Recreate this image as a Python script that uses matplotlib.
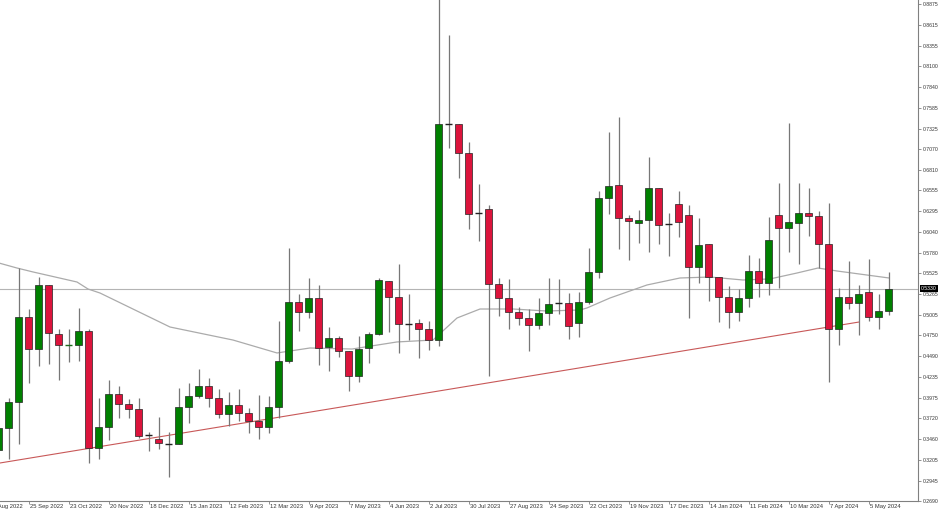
import matplotlib
matplotlib.use("Agg")
import matplotlib.pyplot as plt
import matplotlib.transforms as mtransforms
import numpy as np
import pandas as pd

# ---------------- data (weekly candles, first candle = week of 4 Sep 2022) ----------------
start_date = "2022-09-04"
opens = [0.3325, 0.3598, 0.3922, 0.4980, 0.4581, 0.5378, 0.4768, 0.4630, 0.4631, 0.4805,
         0.3350, 0.3611, 0.4022, 0.3897, 0.3835, 0.3511, 0.3462, 0.3399, 0.3399, 0.3855,
         0.3997, 0.4121, 0.3972, 0.3773, 0.3885, 0.3780, 0.3686, 0.3611, 0.3860, 0.4432,
         0.5166, 0.5042, 0.5216, 0.4606, 0.4718, 0.4557, 0.4246, 0.4594, 0.4768, 0.5428,
         0.5229, 0.4893, 0.4905, 0.4830, 0.4694, 0.7385, 0.7381, 0.7021, 0.6274, 0.6324,
         0.5390, 0.5216, 0.5042, 0.4967, 0.4880, 0.5029, 0.5154, 0.5154, 0.4905, 0.5166,
         0.5540, 0.6461, 0.6622, 0.6212, 0.6149, 0.6187, 0.6585, 0.6137, 0.6386, 0.6249,
         0.5602, 0.5888, 0.5477, 0.5229, 0.5042, 0.5216, 0.5552, 0.5403, 0.6249, 0.6087,
         0.6149, 0.6274, 0.6237, 0.5888, 0.4830, 0.5229, 0.5154, 0.5291, 0.4980, 0.5054]
highs = [0.3640, 0.3972, 0.5590, 0.5079, 0.5477, 0.5380, 0.4830, 0.4830, 0.5092, 0.4830,
         0.3972, 0.4196, 0.4121, 0.3959, 0.3972, 0.3549, 0.3735, 0.3549, 0.4096, 0.4158,
         0.4333, 0.4221, 0.4084, 0.4046, 0.4084, 0.3847, 0.4009, 0.3997, 0.4930, 0.5838,
         0.5266, 0.5465, 0.5378, 0.4855, 0.4743, 0.4557, 0.4743, 0.4793, 0.5465, 0.5430,
         0.5639, 0.5266, 0.4955, 0.4930, 0.8950, 0.8489, 0.7381, 0.7157, 0.6635, 0.6373,
         0.5465, 0.5453, 0.5104, 0.5079, 0.5216, 0.5465, 0.5453, 0.5278, 0.5291, 0.5838,
         0.6548, 0.7282, 0.7469, 0.6249, 0.6311, 0.6971, 0.6585, 0.6274, 0.6548, 0.6373,
         0.6212, 0.5888, 0.5477, 0.5365, 0.5328, 0.5751, 0.5714, 0.6224, 0.6647, 0.7394,
         0.6647, 0.6585, 0.6299, 0.6398, 0.5341, 0.5677, 0.5378, 0.5701, 0.5266, 0.5540]
lows = [0.3290, 0.3213, 0.3399, 0.4158, 0.4370, 0.4395, 0.4196, 0.4420, 0.4432, 0.3163,
        0.3213, 0.3449, 0.3723, 0.3723, 0.3474, 0.3312, 0.3337, 0.2989, 0.3399, 0.3661,
        0.3972, 0.3860, 0.3723, 0.3623, 0.3686, 0.3536, 0.3462, 0.3536, 0.3723, 0.4407,
        0.4805, 0.4967, 0.4382, 0.4308, 0.4482, 0.4059, 0.4171, 0.4407, 0.4756, 0.4793,
        0.4532, 0.4694, 0.4470, 0.4569, 0.4619, 0.7083, 0.6709, 0.6075, 0.5925, 0.4246,
        0.4992, 0.4830, 0.4880, 0.4557, 0.4830, 0.4880, 0.5017, 0.4706, 0.4731, 0.5141,
        0.5465, 0.6261, 0.5826, 0.5689, 0.5901, 0.5789, 0.5888, 0.5739, 0.5975, 0.4967,
        0.5403, 0.5179, 0.4917, 0.4843, 0.4930, 0.5104, 0.5229, 0.5254, 0.5341, 0.5789,
        0.5639, 0.5988, 0.5590, 0.4171, 0.4631, 0.5079, 0.4756, 0.4930, 0.4830, 0.5005]
closes = [0.3598, 0.3922, 0.4980, 0.4581, 0.5378, 0.4781, 0.4631, 0.4632, 0.4805, 0.3350,
          0.3611, 0.4022, 0.3897, 0.3835, 0.3499, 0.3511, 0.3412, 0.3399, 0.3860, 0.3997,
          0.4121, 0.3972, 0.3773, 0.3885, 0.3785, 0.3686, 0.3611, 0.3860, 0.4432, 0.5166,
          0.5042, 0.5216, 0.4594, 0.4718, 0.4557, 0.4246, 0.4581, 0.4768, 0.5440, 0.5229,
          0.4893, 0.4893, 0.4830, 0.4694, 0.7381, 0.7380, 0.7021, 0.6261, 0.6274, 0.5390,
          0.5216, 0.5042, 0.4967, 0.4880, 0.5029, 0.5141, 0.5154, 0.4868, 0.5166, 0.5540,
          0.6461, 0.6610, 0.6212, 0.6174, 0.6187, 0.6585, 0.6125, 0.6137, 0.6162, 0.5602,
          0.5876, 0.5477, 0.5229, 0.5042, 0.5216, 0.5552, 0.5403, 0.5938, 0.6087, 0.6162,
          0.6274, 0.6237, 0.5888, 0.4830, 0.5229, 0.5154, 0.5266, 0.4980, 0.5054, 0.5330]

# moving-average line (vertices: candle index, value)
ma_idx = [-0.5, 1.85, 3.45, 7.85, 8.95, 10.15, 17.15, 23.45, 27.85, 31.15, 35.35, 39.85,
          43.45, 45.85, 48.15, 51.45, 54.85, 58.15, 58.85, 61.15, 64.85, 68.15, 71.15,
          74.45, 77.15, 79.85, 81.95, 83.85, 89.05]
ma_val = [0.5670, 0.5589, 0.5540, 0.5415, 0.5328, 0.5278, 0.4855, 0.4693, 0.4532, 0.4594,
          0.4581, 0.4669, 0.4693, 0.4967, 0.5079, 0.5079, 0.5054, 0.5067, 0.5092, 0.5216,
          0.5378, 0.5465, 0.5477, 0.5440, 0.5453, 0.5527, 0.5589, 0.5552, 0.5465]

# support trend line (two anchors: candle index, value)
trend_idx = [0.15, 86.05]
trend_val = [0.3163, 0.4917]

current_price = 0.5330

ytick_vals = [0.8875, 0.8615, 0.8355, 0.8100, 0.7840, 0.7585, 0.7325, 0.7070, 0.6810,
              0.6555, 0.6295, 0.6040, 0.5780, 0.5525, 0.5265, 0.5005, 0.4750, 0.4490,
              0.4235, 0.3975, 0.3720, 0.3460, 0.3205, 0.2945, 0.2690]
xtick_idx = [-1, 3, 7, 11, 15, 19, 23, 27, 31, 35, 39, 43, 47, 51, 55, 59, 63, 67, 71,
             75, 79, 83, 87]

# ---------------- drawing ----------------
FONT = ["Liberation Sans", "DejaVu Sans"]
plt.rcParams["font.family"] = FONT
FS_Y = 3.7
FS_X = 4.2
TXT = "#333333"

fig = plt.figure(figsize=(9.40, 5.13), dpi=100)
ax = fig.add_axes([0.0, 1 - 501 / 513, 918 / 940, 501 / 513])

o = np.array(opens); h = np.array(highs); l = np.array(lows); c = np.array(closes)
x = np.arange(len(o))
up = c >= o
green = "#008000"
red = "#dc143c"

ax.vlines(x, l, h, color="#777777", linewidth=0.9, zorder=2)
body_h = c - o
doji = np.abs(body_h) < 0.0006
colors = np.where(up, green, red)
ax.bar(x[~doji], body_h[~doji], bottom=o[~doji], width=0.66,
       color=colors[~doji], edgecolor="#222222", linewidth=0.5, zorder=3)
for xi, oi, ci in zip(x[doji], o[doji], c[doji]):
    col = "#1e6b1e" if xi == 7 else "#222222"
    ax.hlines((oi + ci) / 2, xi - 0.33, xi + 0.33, color=col, linewidth=1.0, zorder=3)

ax.plot(ma_idx, ma_val, color="#ababab", linewidth=0.9, zorder=1)
ax.plot(trend_idx, trend_val, color="#c85858", linewidth=0.8, zorder=1.5)
ax.axhline(current_price, color="#b4b4b4", linewidth=0.8, zorder=0.5)

ax.set_xlim(0.15, 91.95)
ax.set_ylim(0.2690, 0.8924)

for s in ["top", "left"]:
    ax.spines[s].set_visible(False)
for s in ["right", "bottom"]:
    ax.spines[s].set_color("#808080")
    ax.spines[s].set_linewidth(0.8)

ax.yaxis.tick_right()
ax.set_yticks(ytick_vals)
ax.set_yticklabels([f"{v:.4f}" for v in ytick_vals])
ax.tick_params(axis="y", direction="out", length=2.2, width=0.6, color="#808080",
               pad=1.0, labelsize=FS_Y, labelcolor=TXT)

def lab(i):
    d = pd.Timestamp(start_date) + pd.Timedelta(days=7 * i)
    return f"{d.day} {d:%b %Y}"

vis_ticks = [i for i in xtick_idx if i >= 0]
ax.set_xticks(vis_ticks)
ax.set_xticklabels([lab(i) for i in vis_ticks])
ax.tick_params(axis="x", direction="out", length=2.2, width=0.6, color="#808080",
               pad=0.2, labelsize=FS_X, labelcolor=TXT)
offset = mtransforms.ScaledTranslation(1.5 / 100, 0, fig.dpi_scale_trans)
for t in ax.get_xticklabels():
    t.set_horizontalalignment("left")
    t.set_transform(t.get_transform() + offset)

# partially visible first label (28 Aug 2022) left of the view
for i in [i for i in xtick_idx if i < 0]:
    trans = mtransforms.blended_transform_factory(ax.transData, ax.transAxes)
    ax.text(i, 0, lab(i), transform=trans + offset + mtransforms.ScaledTranslation(0, -3.2 / 100, fig.dpi_scale_trans),
            ha="left", va="top", fontsize=FS_X, color=TXT, clip_on=False)

# current price label
ptrans = mtransforms.blended_transform_factory(ax.transAxes, ax.transData)
ax.text(1.0 + 3 / 918, current_price, f"{current_price:.4f}", transform=ptrans,
        ha="left", va="center", fontsize=FS_Y, color="white", zorder=10, clip_on=False,
        bbox=dict(boxstyle="square,pad=0.2", fc="black", ec="none"))

fig.savefig("out.png", dpi=100)
